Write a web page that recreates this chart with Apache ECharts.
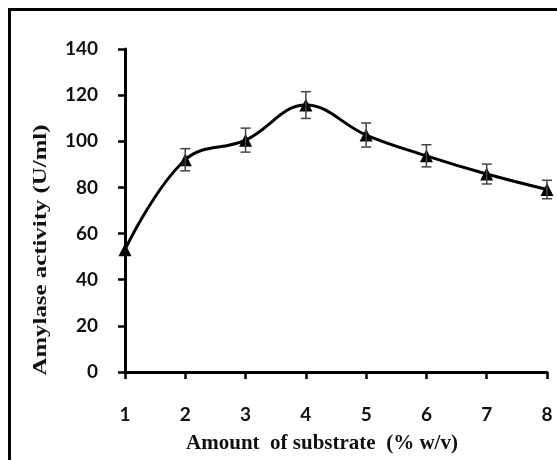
<!DOCTYPE html>
<html>
<head>
<meta charset="utf-8">
<script src="https://cdn.jsdelivr.net/npm/echarts@6/dist/echarts.min.js"></script>
<style>
html,body{margin:0;padding:0;background:#fff;overflow:hidden;}
#chart{width:557px;height:460px;}
</style>
</head>
<body>
<div id="chart"></div>
<script>
// Substrate amount (% w/v) and measured amylase activity (U/ml)
var substrate = [1, 2, 3, 4, 5, 6, 7, 8];
var activity = [53, 92, 100.5, 115.7, 102.7, 93.7, 85.8, 79.1];
var activityErr = [0, 4.8, 5.2, 5.8, 5.2, 4.8, 4.3, 4];
var yTicks = [0, 20, 40, 60, 80, 100, 120, 140];

var chart = echarts.init(document.getElementById('chart'));

var linePoints = substrate.map(function (x, i) { return [x, activity[i]]; });
var errData = substrate.map(function (x, i) {
  return [x, activity[i] - activityErr[i], activity[i] + activityErr[i]];
});

chart.setOption({
  animation: false,
  backgroundColor: '#fff',
  grid: { left: 125, right: 10, top: 49, bottom: 88 },
  xAxis: {
    type: 'value', min: 1, max: 8, interval: 1,
    axisLine: { show: true, lineStyle: { color: '#000', width: 3 } },
    axisTick: { show: true, length: 7, lineStyle: { color: '#000', width: 2.5 } },
    axisLabel: { color: '#111', fontFamily: 'Lato', fontWeight: 'bold', fontSize: 19, margin: 33 },
    splitLine: { show: false }
  },
  yAxis: {
    type: 'value', min: yTicks[0], max: yTicks[yTicks.length - 1], interval: 20,
    axisLine: { show: true, lineStyle: { color: '#000', width: 3 } },
    axisTick: { show: true, length: 7, lineStyle: { color: '#000', width: 2.5 } },
    axisLabel: { color: '#111', fontFamily: 'Lato', fontWeight: 'bold', fontSize: 19, margin: 27 },
    splitLine: { show: false }
  },
  graphic: [
    // outer frame: top and left edges (the rest runs off the page)
    { type: 'polyline', shape: { points: [[9.5, 470], [9.5, 9.5], [570, 9.5]] },
      style: { fill: null, stroke: '#000', lineWidth: 3 }, z: 100 },
    { type: 'text', x: 322, y: 444,
      style: { text: 'Amount  of substrate  (% w/v)', fontFamily: 'Liberation Serif',
        fontWeight: 'bold', fontSize: 21, fill: '#111', textAlign: 'center', textVerticalAlign: 'middle' } },
    { type: 'text', x: 41, y: 250, rotation: Math.PI / 2, scaleX: 1.38,
      style: { text: 'Amylase activity (U/ml)', fontFamily: 'Liberation Serif',
        fontWeight: 'bold', fontSize: 18, fill: '#111', textAlign: 'center', textVerticalAlign: 'middle' } }
  ],
  series: [
    {
      type: 'line', data: linePoints, smooth: 0.4,
      symbol: 'triangle', symbolSize: 13,
      lineStyle: { color: '#000', width: 3 },
      itemStyle: { color: '#000' }, z: 3
    },
    {
      type: 'custom', data: errData, z: 4,
      renderItem: function (params, api) {
        if (api.value(2) - api.value(1) <= 0) return null;
        var lo = api.coord([api.value(0), api.value(1)]);
        var hi = api.coord([api.value(0), api.value(2)]);
        var w = 5;
        var st = { stroke: '#444', lineWidth: 1.5 };
        return { type: 'group', children: [
          { type: 'line', shape: { x1: lo[0], y1: lo[1], x2: hi[0], y2: hi[1] }, style: st },
          { type: 'line', shape: { x1: lo[0] - w, y1: lo[1], x2: lo[0] + w, y2: lo[1] }, style: st },
          { type: 'line', shape: { x1: hi[0] - w, y1: hi[1], x2: hi[0] + w, y2: hi[1] }, style: st }
        ] };
      }
    }
  ]
});
</script>
</body>
</html>
